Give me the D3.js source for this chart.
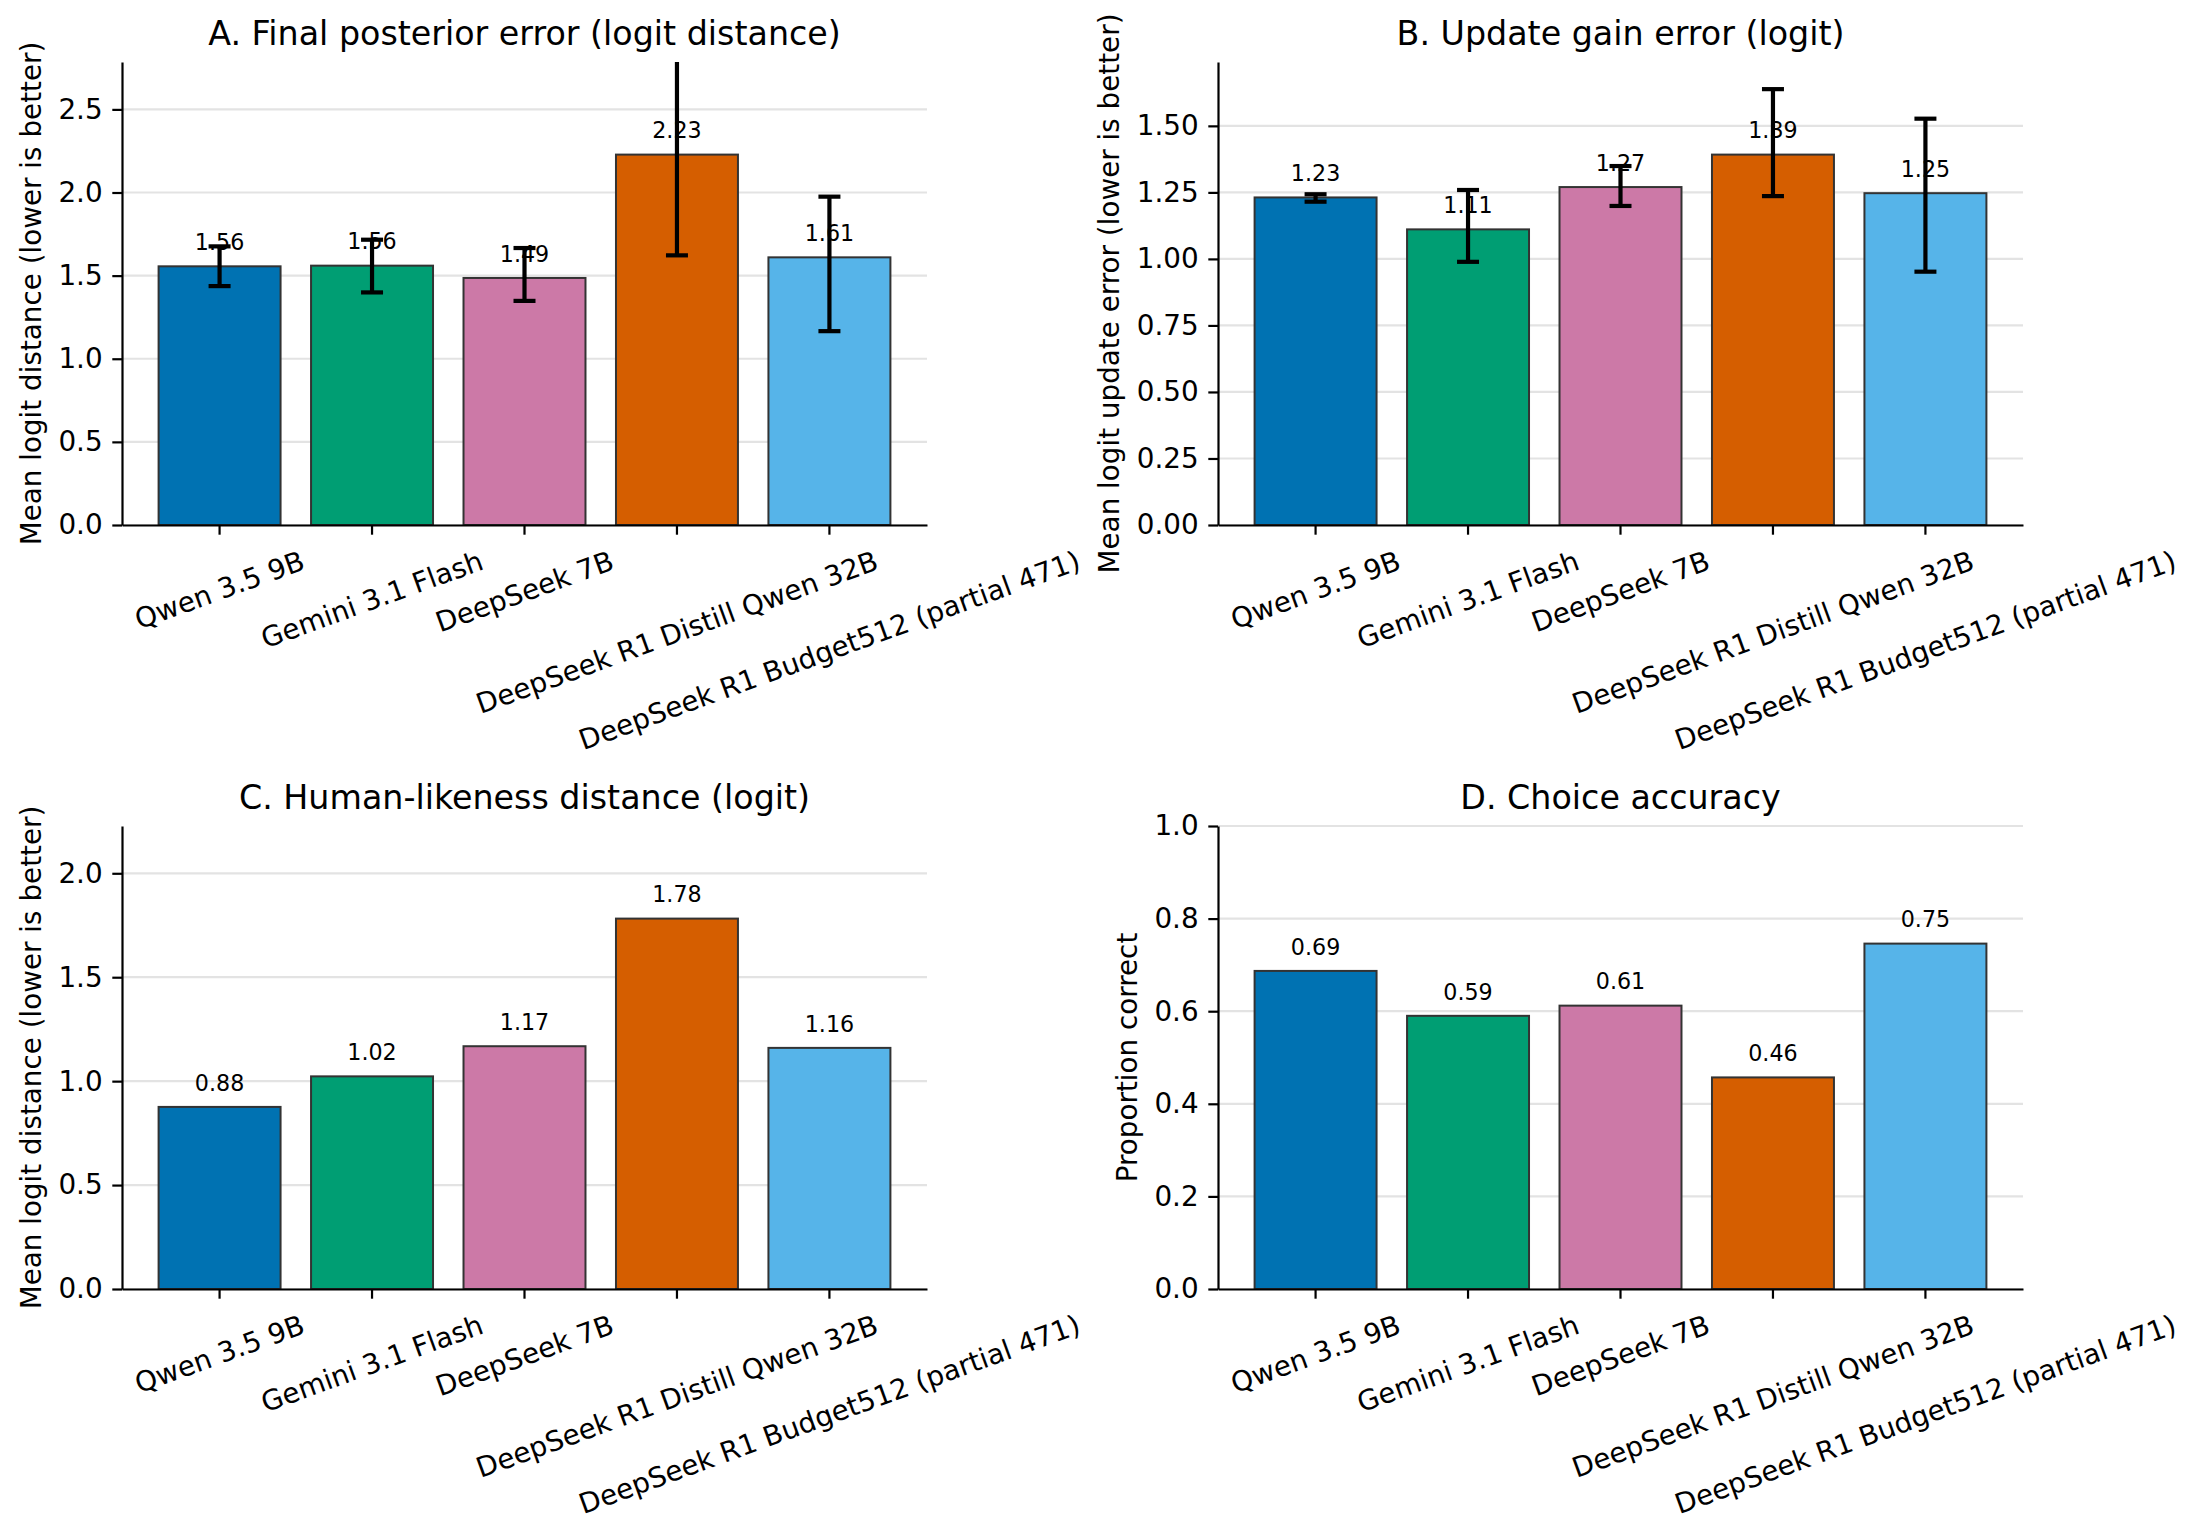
<!DOCTYPE html>
<html>
<head>
<meta charset="utf-8">
<title>Model comparison panels</title>
<script src="https://cdn.jsdelivr.net/npm/d3@7"></script>
<style>
body { margin: 0; background: #fff; }
svg { font-family: "DejaVu Sans", sans-serif; }
</style>
</head>
<body>
<script>

// data
var models = ["Qwen 3.5 9B", "Gemini 3.1 Flash", "DeepSeek 7B",
              "DeepSeek R1 Distill Qwen 32B", "DeepSeek R1 Budget512 (partial 471)"];
var colors = ["#0072B2", "#009E73", "#CC79A7", "#D55E00", "#56B4E9"];

var posteriorErr = [1.556, 1.560, 1.486, 2.228, 1.610];
var posteriorLo  = [1.437, 1.399, 1.348, 1.622, 1.166];
var posteriorHi  = [1.676, 1.716, 1.666, 2.834, 1.975];

var gainErr = [1.231, 1.111, 1.270, 1.392, 1.247];
var gainLo  = [1.215, 0.989, 1.199, 1.236, 0.952];
var gainHi  = [1.243, 1.259, 1.349, 1.638, 1.527];

var humanDist = [0.876, 1.023, 1.168, 1.782, 1.160];

var accuracy = [0.687, 0.590, 0.612, 0.457, 0.746];

var ticksA = [0, 0.5, 1.0, 1.5, 2.0, 2.5];
var ticksB = [0, 0.25, 0.5, 0.75, 1.0, 1.25, 1.5];
var ticksC = [0, 0.5, 1.0, 1.5, 2.0];
var ticksD = [0, 0.2, 0.4, 0.6, 0.8, 1.0];

var panels = [
  {title: "A. Final posterior error (logit distance)", ylabel: "Mean logit distance (lower is better)",
   values: posteriorErr, lo: posteriorLo, hi: posteriorHi, ticks: ticksA, fmt: ".1f", left: 122, top: 62},
  {title: "B. Update gain error (logit)", ylabel: "Mean logit update error (lower is better)",
   values: gainErr, lo: gainLo, hi: gainHi, ticks: ticksB, fmt: ".2f", left: 1218, top: 62},
  {title: "C. Human-likeness distance (logit)", ylabel: "Mean logit distance (lower is better)",
   values: humanDist, ticks: ticksC, fmt: ".1f", left: 122, top: 826},
  {title: "D. Choice accuracy", ylabel: "Proportion correct",
   values: accuracy, ticks: ticksD, fmt: ".1f", left: 1218, top: 826, ymax: 1}
];

var iw = 805, ih = 463;
var tickFs = 27.8, titleFs = 33.3, barFs = 22.2;
var tickLen = 9.7, tickPad = 9.7;
var rad = 20 * Math.PI / 180;

var svg = d3.select("body").append("svg")
    .attr("width", 2199)
    .attr("height", 1536);

svg.append("rect").attr("width", 2199).attr("height", 1536).attr("fill", "#fff");

panels.forEach(function(p, pi) {
  var g = svg.append("g").attr("transform", "translate(" + p.left + "," + p.top + ")");

  var x = d3.scaleBand()
      .domain(models)
      .range([0, iw])
      .paddingInner(0.2)
      .paddingOuter(0.24);

  var y = d3.scaleLinear()
      .domain([0, p.ymax || d3.max(p.values) * 1.25])
      .range([ih, 0]);

  // grid
  g.append("g").selectAll("line")
      .data(p.ticks)
    .enter().append("line")
      .attr("x1", 0).attr("x2", iw)
      .attr("y1", function(d) { return y(d); })
      .attr("y2", function(d) { return y(d); })
      .attr("stroke", "#b0b0b0")
      .attr("stroke-opacity", 0.35)
      .attr("stroke-width", 2.2);

  // bars
  g.append("g").selectAll("rect")
      .data(p.values)
    .enter().append("rect")
      .attr("x", function(d, i) { return x(models[i]); })
      .attr("width", x.bandwidth())
      .attr("y", function(d) { return y(d); })
      .attr("height", function(d) { return ih - y(d); })
      .attr("fill", function(d, i) { return colors[i]; })
      .attr("stroke", "#333")
      .attr("stroke-width", 2);

  // value labels
  g.append("g").selectAll("text")
      .data(p.values)
    .enter().append("text")
      .attr("x", function(d, i) { return x(models[i]) + x.bandwidth() / 2; })
      .attr("y", function(d) { return y(d) - 16.3; })
      .attr("text-anchor", "middle")
      .attr("font-size", barFs)
      .text(function(d) { return d3.format(".2f")(d); });

  // error bars, clipped to the axes
  if (p.lo) {
    var clipId = "clip" + pi;
    g.append("clipPath").attr("id", clipId)
      .append("rect").attr("width", iw).attr("height", ih);
    var eb = g.append("g").attr("clip-path", "url(#" + clipId + ")")
        .selectAll("g")
        .data(p.values)
      .enter().append("g")
        .attr("stroke", "#000")
        .attr("stroke-width", 4.2);
    var cx = function(i) { return x(models[i]) + x.bandwidth() / 2; };
    eb.append("line")
        .attr("x1", function(d, i) { return cx(i); })
        .attr("x2", function(d, i) { return cx(i); })
        .attr("y1", function(d, i) { return y(p.lo[i]); })
        .attr("y2", function(d, i) { return y(p.hi[i]); });
    eb.append("line")
        .attr("x1", function(d, i) { return cx(i) - 11; })
        .attr("x2", function(d, i) { return cx(i) + 11; })
        .attr("y1", function(d, i) { return y(p.lo[i]); })
        .attr("y2", function(d, i) { return y(p.lo[i]); });
    eb.append("line")
        .attr("x1", function(d, i) { return cx(i) - 11; })
        .attr("x2", function(d, i) { return cx(i) + 11; })
        .attr("y1", function(d, i) { return y(p.hi[i]); })
        .attr("y2", function(d, i) { return y(p.hi[i]); });
  }

  // y axis
  var ya = g.append("g")
      .call(d3.axisLeft(y).tickValues(p.ticks).tickFormat(d3.format(p.fmt))
            .tickSize(tickLen).tickPadding(tickPad).tickSizeOuter(0));
  ya.selectAll("text").attr("font-size", tickFs).attr("font-family", "DejaVu Sans").attr("fill", "#000");
  ya.selectAll("line").attr("stroke", "#000").attr("stroke-width", 2.2);
  ya.select(".domain").attr("stroke", "#000").attr("stroke-width", 2.2);

  var maxW = 0;
  ya.selectAll("text").each(function() { maxW = Math.max(maxW, this.getComputedTextLength()); });

  // x axis
  var xa = g.append("g")
      .attr("transform", "translate(0," + ih + ")")
      .call(d3.axisBottom(x).tickSize(tickLen).tickSizeOuter(0).tickFormat(""));
  xa.selectAll("line").attr("stroke", "#000").attr("stroke-width", 2.2);
  xa.select(".domain").attr("stroke", "#000").attr("stroke-width", 2.2);

  g.append("g").selectAll("text")
      .data(models)
    .enter().append("text")
      .attr("font-size", tickFs)
      .attr("text-anchor", "middle")
      .attr("y", 0.346 * tickFs)
      .text(function(d) { return d; })
      .each(function(d) {
        var w = this.getComputedTextLength();
        var bh = w * Math.sin(rad) + 1.164 * tickFs * Math.cos(rad);
        var cy = ih + tickLen + tickPad + bh / 2;
        d3.select(this).attr("transform",
          "translate(" + (x(d) + x.bandwidth() / 2) + "," + cy + ") rotate(-20)");
      });

  // y label
  var bx = -(tickLen + tickPad + maxW) - 11.1 - 0.236 * tickFs;
  g.append("text")
      .attr("transform", "translate(" + bx + "," + (ih / 2) + ") rotate(-90)")
      .attr("text-anchor", "middle")
      .attr("font-size", tickFs)
      .text(p.ylabel);

  // title
  g.append("text")
      .attr("x", iw / 2)
      .attr("y", -16.7)
      .attr("text-anchor", "middle")
      .attr("font-size", titleFs)
      .text(p.title);
});

</script>
</body>
</html>
